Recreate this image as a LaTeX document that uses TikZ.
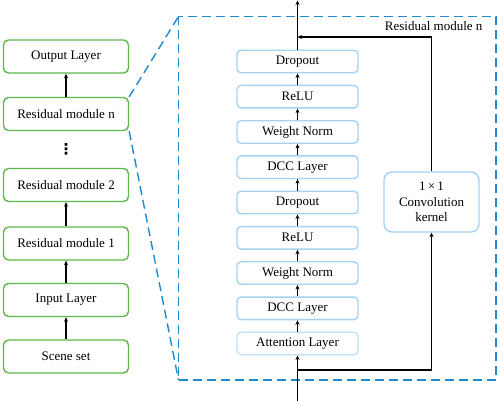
\documentclass[tikz,border=0pt]{standalone}
\usepackage{fontspec}
\setmainfont{Liberation Serif}
\newfontfamily\dvfont{DejaVu Sans}
\usetikzlibrary{arrows.meta}
\definecolor{grn}{HTML}{5CB848}
\definecolor{dblue}{HTML}{1F8AD0}
\definecolor{lblue}{HTML}{A3D2F2}
\definecolor{llblue}{HTML}{BFE0F6}
\begin{document}
\begin{tikzpicture}[x=1pt,y=-1pt,
  font=\fontsize{13}{15}\selectfont,
  gbox/.style={draw=grn,line width=1.4pt,rounded corners=5pt,minimum width=125pt,minimum height=33pt,inner sep=0pt},
  bbox/.style={draw=lblue,line width=1.4pt,rounded corners=4pt,minimum width=121pt,minimum height=22.5pt,inner sep=0pt},
  arr/.style={-{Stealth[length=4.5pt,width=4pt]},line width=1.3pt},
  dsh/.style={draw=dblue,line width=1.4pt,dash pattern=on 9pt off 5pt}]
\useasboundingbox (0,0) rectangle (498,401);
% left column
\node[gbox] (out) at (66,56.5) {Output Layer};
\node[gbox] (rn) at (66,114) {Residual module n};
\node[font=\dvfont\fontsize{15}{15}\selectfont\bfseries] (dots) at (66,149) {⋮};
\node[gbox] (r2) at (66,185) {Residual module 2};
\node[gbox] (r1) at (66,243.5) {Residual module 1};
\node[gbox] (inp) at (66,300) {Input Layer};
\node[gbox] (sc) at (66,356.5) {Scene set};
\draw[arr] (rn.north) -- (out.south);
\draw[arr] (r1.north) -- (r2.south);
\draw[arr] (inp.north) -- (r1.south);
\draw[arr] (sc.north) -- (inp.south);
% dashed frame
\coordinate (tl) at (178.5,16.5);
\coordinate (br) at (496,380);
\draw[dsh] (tl) rectangle (br);
\draw[dsh] (rn.north east) -- (tl);
\draw[dsh] (rn.south east) -- (tl |- br);
\node[anchor=east] (lab) at (486,26) {Residual module n};
% inner column
\node[bbox] (d2) at (297.5,61.5) {Dropout};
\node[bbox] (re2) at (297.5,96.7) {ReLU};
\node[bbox] (w2) at (297.5,132) {Weight Norm};
\node[bbox] (c2) at (297.5,167.2) {DCC Layer};
\node[bbox] (d1) at (297.5,202.5) {Dropout};
\node[bbox] (re1) at (297.5,237.8) {ReLU};
\node[bbox] (w1) at (297.5,273) {Weight Norm};
\node[bbox] (c1) at (297.5,308.3) {DCC Layer};
\node[bbox,draw=llblue] (att) at (297.5,343.5) {Attention Layer};
\foreach \a/\b in {att/c1,c1/w1,w1/re1,re1/d1,d1/c2,c2/w2,w2/re2,re2/d2}
  \draw[arr] (\a.north) -- (\b.south);
\node[draw=lblue,line width=1.4pt,rounded corners=8pt,minimum width=95pt,minimum height=60pt,align=center,inner sep=0pt,font=\fontsize{13}{15.5}\selectfont] (conv) at (431.5,202) {1\,×\,1\\Convolution\\kernel};
% connectors
\coordinate (inb) at (297.5,401);
\coordinate (br1) at (297.5,370);
\coordinate (top) at (297.5,0.5);
\coordinate (j) at (297.5,37);
\draw[arr] (inb) -- (att.south);
\draw[arr,line cap=rect] (br1) -| (conv.south);
\draw[arr] (conv.north) |- (j);
\draw[arr] (d2.north) -- (top);
\end{tikzpicture}
\end{document}
